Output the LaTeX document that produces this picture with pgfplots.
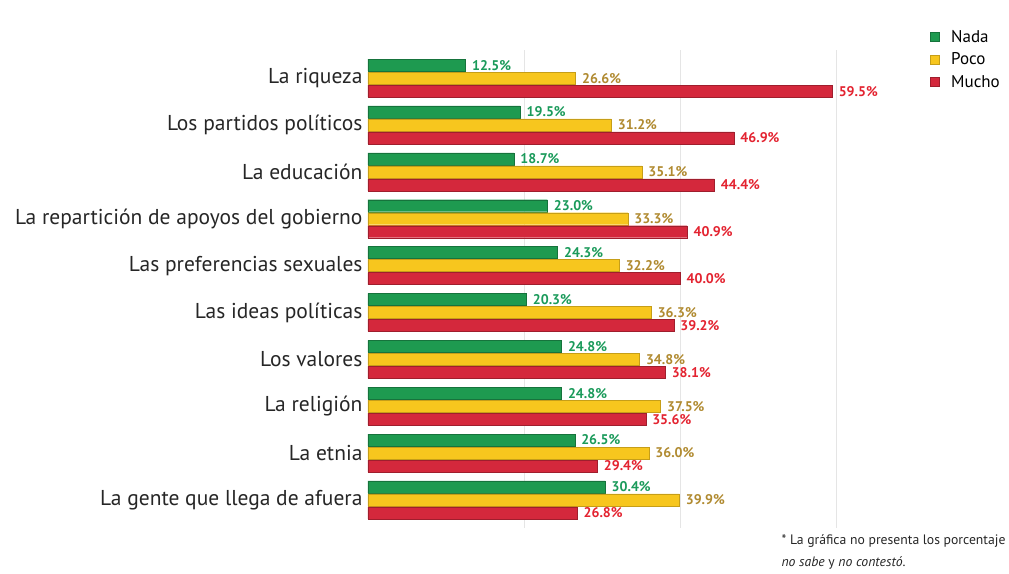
\documentclass[border=0pt]{standalone}
\usepackage{pgfplots}
\pgfplotsset{compat=1.18}
\usepackage{fontspec}
\setmainfont{PT Sans}
\definecolor{cgreen}{HTML}{1E9A50}
\definecolor{cyellow}{HTML}{F7C61E}
\definecolor{cred}{HTML}{D4283C}
\definecolor{tgreen}{HTML}{1A9A5A}
\definecolor{tyellow}{HTML}{B08A30}
\definecolor{tred}{HTML}{E32330}
\begin{document}
\begin{tikzpicture}[x=1pt,y=1pt]
\path[use as bounding box] (0,0) rectangle (1009,-573);
\begin{axis}[at={(368pt,-528pt)}, anchor=south west, scale only axis,
  width=632pt, height=478pt,
  /pgf/number format/assume math mode=true,
  xbar, bar width=12pt, xmin=0, xmax=81, ymin=-0.6, ymax=9.6,
  ytick={0,...,9},
  yticklabels={La gente que llega de afuera, La etnia, La religión, Los valores, Las ideas políticas, Las preferencias sexuales, La repartición de apoyos del gobierno, La educación, Los partidos políticos, La riqueza},
  yticklabel style={font=\fontsize{21.5}{23}\selectfont, text=black!85, xshift=-2pt},
  xtick={20,40,60}, xticklabels={}, xmajorgrids, grid style={black!10},
  axis line style={draw=none}, major tick length=0pt,
  point meta=x,
  nodes near coords={\pgfmathprintnumber[fixed,fixed zerofill,precision=1]{\pgfplotspointmeta}\%},
  every node near coord/.append style={font=\fontsize{14}{16}\selectfont\bfseries, anchor=west, xshift=3pt},
  legend style={at={(1.008,1.05)}, anchor=north east, draw=none, fill=none,
    font=\fontsize{17}{19}\selectfont, row sep=5pt,
    /tikz/every odd column/.append style={column sep=10pt}},
  legend cell align=left,
  legend image code/.code={\fill[#1] (0pt,-4.5pt) rectangle (9pt,4.5pt);},
  clip=false]
\addplot[fill=cgreen, draw=cgreen!75!black, bar shift=13pt,
  every node near coord/.append style={text=tgreen}] coordinates {
  (12.5,9) (19.5,8) (18.7,7) (23.0,6) (24.3,5) (20.3,4) (24.8,3) (24.8,2) (26.5,1) (30.4,0)};
\addplot[fill=cyellow, draw=cyellow!80!black, bar shift=0pt,
  every node near coord/.append style={text=tyellow}] coordinates {
  (26.6,9) (31.2,8) (35.1,7) (33.3,6) (32.2,5) (36.3,4) (34.8,3) (37.5,2) (36.0,1) (39.9,0)};
\addplot[fill=cred, draw=cred!75!black, bar shift=-13pt,
  every node near coord/.append style={text=tred}] coordinates {
  (59.5,9) (46.9,8) (44.4,7) (40.9,6) (40.0,5) (39.2,4) (38.1,3) (35.6,2) (29.4,1) (26.8,0)};
\legend{Nada, Poco, Mucho}
\end{axis}
\node[anchor=west, font=\fontsize{13.7}{15}\selectfont, text=black!85] at (778,-541) {* La gráfica no presenta los porcentaje};
\node[anchor=west, font=\fontsize{13.7}{15}\selectfont, text=black!85] at (778,-563) {\textit{no sabe} y \textit{no contestó}.};
\end{tikzpicture}
\end{document}
